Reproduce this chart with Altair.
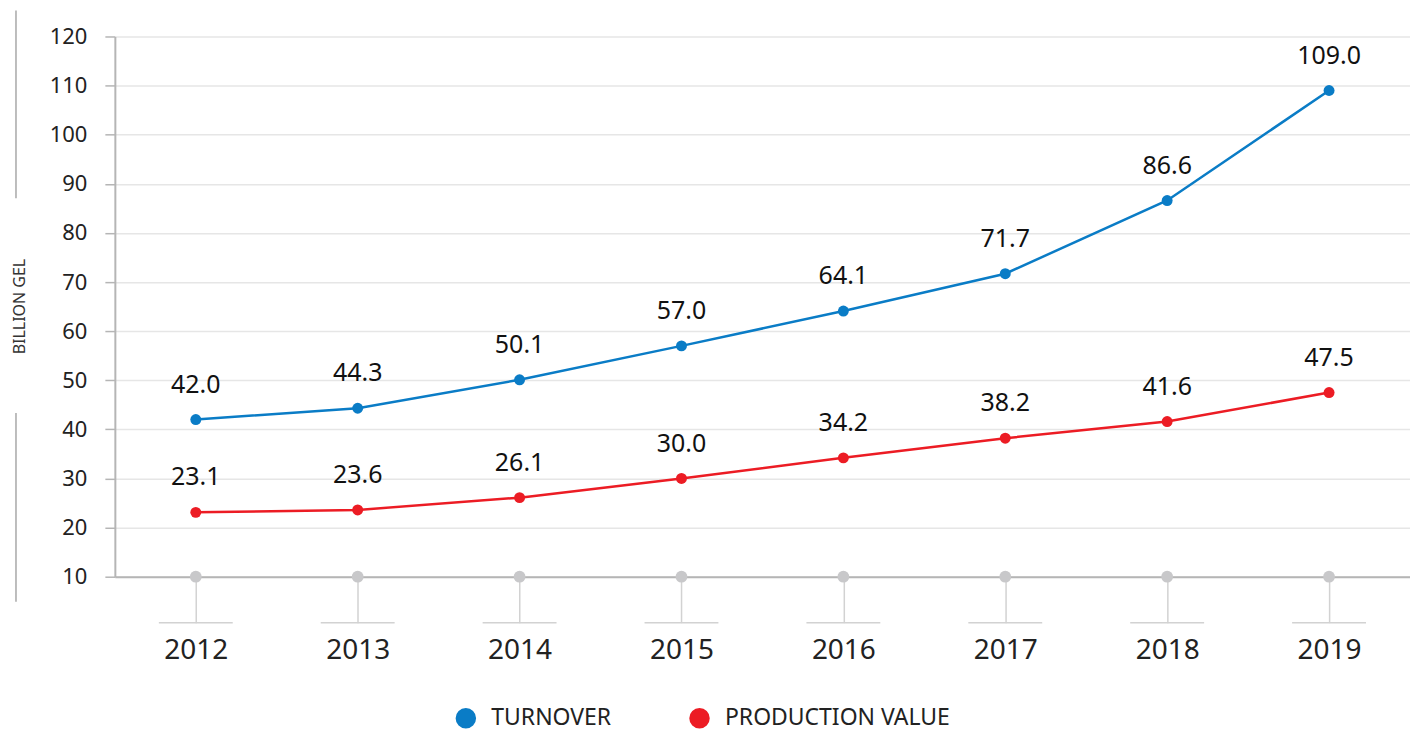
import altair as alt
import pandas as pd

years = ["2012", "2013", "2014", "2015", "2016", "2017", "2018", "2019"]
turnover = [42.0, 44.3, 50.1, 57.0, 64.1, 71.7, 86.6, 109.0]
production = [23.1, 23.6, 26.1, 30.0, 34.2, 38.2, 41.6, 47.5]
series_names = ["TURNOVER", "PRODUCTION VALUE"]
series_colors = ["#0a7cc6", "#ec1c24"]
axis_base = 10
y_ticks = list(range(10, 130, 10))

rows = []
for name, vals in zip(series_names, [turnover, production]):
    for yr, v in zip(years, vals):
        rows.append({"year": yr, "series": name, "value": v})
df = pd.DataFrame(rows)
base_df = pd.DataFrame({"year": years, "value": [axis_base] * len(years)})
deco_df = pd.DataFrame({"k": [0]})

FONT = "Noto Sans"
xscale = alt.Scale(type="point", padding=0.5, domain=years)
yscale = alt.Scale(domain=[10, 120], nice=False, zero=False)
cscale = alt.Scale(domain=series_names, range=series_colors)

x_axis = alt.Axis(title=None, labelFontSize=28, labelFont=FONT, labelColor="#222",
                  labelPadding=14, tickSize=46, tickColor="#d2d2d2", tickWidth=1.5,
                  domainColor="#b5b5b5", domainWidth=2, grid=False, labelAngle=0)
y_axis = alt.Axis(title="BILLION GEL", values=y_ticks, labelFontSize=22, labelFont=FONT,
                  labelColor="#222", labelPadding=18, tickSize=10, tickColor="#b5b5b5",
                  tickWidth=1.5, domainColor="#b5b5b5", domainWidth=2,
                  gridColor="#e6e6e6", gridWidth=1.5,
                  titleX=-95, titleY=270, titleAngle=270, titleAlign="center",
                  titleBaseline="middle", titleFontSize=16, titleFontWeight="normal",
                  titleColor="#333", titleFont=FONT, titleLimit=1000)

X = alt.X("year:O", scale=xscale, axis=x_axis)
Y = alt.Y("value:Q", scale=yscale, axis=y_axis)
C = alt.Color("series:N", scale=cscale, sort=series_names,
              legend=alt.Legend(orient="none", legendX=340, legendY=671,
                                direction="horizontal", title=None,
                                symbolType="circle", symbolSize=420,
                                symbolStrokeWidth=0,
                                labelFontSize=23, labelFont=FONT, labelColor="#222",
                                labelLimit=1000, columnPadding=76, labelOffset=14))

base = alt.Chart(base_df)
stems = base.mark_rule(color="#d2d2d2", strokeWidth=1.5, xOffset=-37, x2Offset=37).encode(
    x=X, x2="year:O", y=alt.value(587),
)
dots = base.mark_circle(color="#c8c8ca", size=140, opacity=1).encode(x=X, y=Y)

main = alt.Chart(df)
lines = main.mark_line(strokeWidth=2.5).encode(
    x=X, y=Y, color=C, detail="series:N",
)
points = main.mark_circle(size=120, opacity=1).encode(x=X, y=Y, color=C)
labels = main.mark_text(dy=-27, baseline="alphabetic", fontSize=25, font=FONT,
                        color="#111").encode(
    x=X, y=Y, text=alt.Text("value:Q", format=".1f"),
)

deco1 = alt.Chart(deco_df).mark_rule(color="#a8a8a8", strokeWidth=1.5).encode(
    x=alt.value(-99), y=alt.value(-26), y2=alt.value(162))
deco2 = alt.Chart(deco_df).mark_rule(color="#a8a8a8", strokeWidth=1.5).encode(
    x=alt.value(-99), y=alt.value(377), y2=alt.value(566))

chart = alt.layer(stems, dots, lines, points, labels, deco1, deco2).properties(
    width=1297, height=541,
    autosize=alt.AutoSizeParams(type="none"),
    padding={"left": 107, "top": 28, "right": 0, "bottom": 158},
).configure_view(stroke=None)

chart.save("out.html", embed_options={"renderer": "svg", "actions": False})
